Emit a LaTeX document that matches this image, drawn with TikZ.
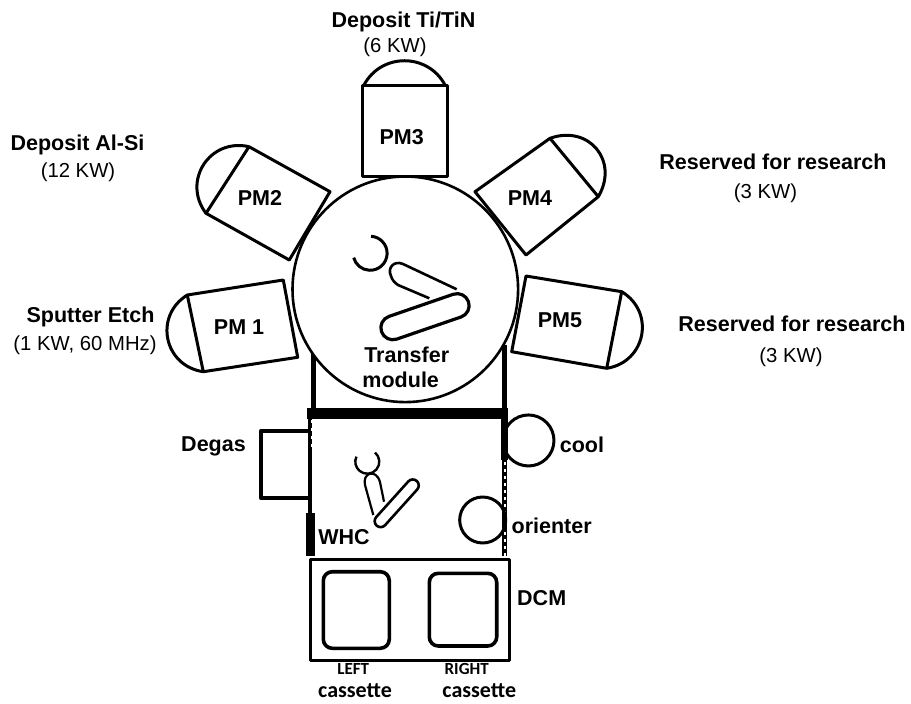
\documentclass[tikz,border=0pt]{standalone}
\usepackage{fontspec}
\setmainfont{Liberation Sans}
\newfontfamily\calib{Carlito}
\begin{document}
\begin{tikzpicture}[x=1pt,y=-1pt,line join=round,
  ln/.style={line width=3pt,black},
  dome/.style={ln,bend left=#1},
  bt/.style={font=\fontsize{21.5}{24}\selectfont\bfseries,inner sep=0pt},
  mt/.style={font=\fontsize{20.3}{24}\selectfont,inner sep=0pt,text=black},
  pm/.style={font=\fontsize{21.5}{24}\selectfont\bfseries,inner sep=0pt},
  cs/.style={font=\calib\fontsize{17}{19}\selectfont\bfseries,inner sep=0pt},
  cl/.style={font=\calib\fontsize{22}{26}\selectfont\bfseries,inner sep=0pt}]
\useasboundingbox (0,0) rectangle (911,704);
% rails and transfer module
\draw[line width=4.5pt] (313.5,353) -- (313.5,413);
\draw[line width=4.5pt] (504.5,345) -- (504.5,413);
\draw[line width=2.6pt,fill=white] (405.3,289.3) circle (112.8);
% process modules
\draw[ln] (362.5,85.7) rectangle (447,176.7);
\coordinate (a3) at (364,85); \coordinate (b3) at (445,85);
\draw[dome=62,looseness=1.16] (a3) to (b3);
\draw[ln] (249,146.7) -- (330,191.7) -- (289.3,260) -- (206,213.3) -- cycle;
\coordinate (a2) at (206,213.3); \coordinate (b2) at (249,146.7);
\draw[dome=70,looseness=1.3] (a2) to (b2);
\draw[ln] (550,138.3) -- (598.3,196.7) -- (526,255) -- (475,191.7) -- cycle;
\coordinate (a4) at (550,138.3); \coordinate (b4) at (598.3,196.7);
\draw[dome=70,looseness=1.4] (a4) to (b4);
\draw[ln] (526,276) -- (621.7,291.7) -- (606.7,368.3) -- (511.7,351.7) -- cycle;
\coordinate (a5) at (621.7,291.7); \coordinate (b5) at (606.7,368.3);
\draw[dome=70,looseness=1.3] (a5) to (b5);
\draw[ln] (187.3,295) -- (283.3,280) -- (297.7,357.3) -- (203.3,371.7) -- cycle;
\coordinate (a1) at (203.3,371.7); \coordinate (b1) at (187.3,295);
\draw[dome=70,looseness=1.3] (a1) to (b1);
% transfer robot
\draw[ln] (371,236.3) arc[start angle=-87,end angle=165,radius=17];
\draw[line width=2.6pt] (456.7,289.3) -- (403,264) .. controls (394,260) and (387,268) .. (391,276) .. controls (392,280) and (395,283) .. (398,285) -- (429.3,298.3);
\draw[line width=3.2pt,rounded corners=12pt,rotate around={19:(425,316.7)}] (379,304.7) rectangle (471,328.7);
% WHC
\draw[line width=11pt] (307,413.5) -- (508,413.5);
\draw[line width=4.5pt] (310,419) -- (310,513);
\draw[line width=9pt] (310,513) -- (310,556);
\draw[line width=7pt] (504.5,419) -- (504.5,460);
\draw[line width=5.5pt] (504.5,460) -- (504.5,556);
\draw[line width=1.5pt,white,dash pattern=on 3pt off 4pt] (505,462) -- (505,556);
\draw[line width=1pt,white,dash pattern=on 3pt off 5pt] (311,420) -- (311,450);
\draw[line width=3.6pt] (308.5,431) -- (260.7,431) -- (260.7,498) -- (308.5,498);
\draw[ln] (505,430.5) arc[start angle=-157,end angle=157,radius=25.5];
\draw[ln] (482.7,520) circle (23);
\draw[line width=2.4pt] (367.3,461.7) ++(-50:12) arc[start angle=-50,end angle=205,radius=12];
\draw[line width=2.2pt] (373.3,515) -- (365,485) .. controls (362,473) and (376,468) .. (380,482) -- (384,501.7);
\draw[line width=2.6pt,rounded corners=6pt,rotate around={48:(396.7,503.3)}] (366.7,497.3) rectangle (426.7,509.3);
% DCM
\draw[line width=3pt] (310,559.3) rectangle (509.3,660.7);
\draw[line width=3.6pt,rounded corners=9pt] (323.3,571.7) rectangle (389.3,648.3);
\draw[line width=3.6pt,rounded corners=9pt] (429.3,573.3) rectangle (496.7,646);
% labels
\node[bt] (t3a) at (403.5,22) {Deposit Ti/TiN};
\node[mt] (t3b) at (395,47) {(6 KW)};
\node[bt] (t2a) at (77.5,145) {Deposit Al-Si};
\node[mt] (t2b) at (78,172) {(12 KW)};
\node[bt] (t4a) at (773,162) {Reserved for research};
\node[mt] (t4b) at (765.5,193) {(3 KW)};
\node[bt] (t1a) at (90.5,317) {Sputter Etch};
\node[mt] (t1b) at (85,345) {(1 KW, 60 MHz)};
\node[bt] (t5a) at (792,324) {Reserved for research};
\node[mt] (t5b) at (791,357) {(3 KW)};
\node[pm] (p3) at (401.7,136.7) {PM3};
\node[pm] (p2) at (260,198) {PM2};
\node[pm] (p4) at (530,197.7) {PM4};
\node[pm] (p1) at (239,327) {PM 1};
\node[pm] (p5) at (560,320) {PM5};
\node[pm] (tr) at (406.7,355) {Transfer};
\node[pm] (mo) at (400.7,380) {module};
\node[pm] (dg) at (213.5,446) {Degas};
\node[pm] (co) at (582,445) {cool};
\node[pm] (or) at (551.7,526) {orienter};
\node[pm] (wh) at (344,537.3) {WHC};
\node[pm] (dc) at (541.7,598) {DCM};
\node[cs] (lf) at (353.3,669) {LEFT};
\node[cs] (rg) at (466.7,669) {RIGHT};
\node[cl] (c1) at (355,690.5) {cassette};
\node[cl] (c2) at (479.3,690.5) {cassette};
\end{tikzpicture}
\end{document}
